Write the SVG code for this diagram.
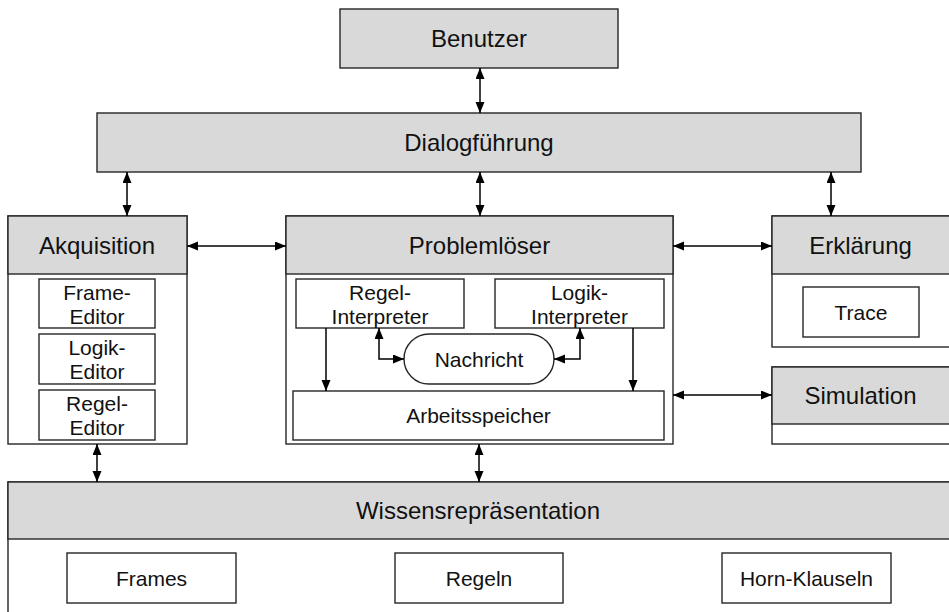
<svg xmlns="http://www.w3.org/2000/svg" width="949" height="612" viewBox="0 0 949 612">
<style>
  .box{fill:#ffffff;stroke:#262626;stroke-width:1.4}
  .hdr{fill:#d9d9d9;stroke:#262626;stroke-width:1.4}
  .t24{font-family:"Liberation Sans",Arial,sans-serif;font-size:24px;fill:#111;text-anchor:middle}
  .t21{font-family:"Liberation Sans",Arial,sans-serif;font-size:21px;fill:#111;text-anchor:middle}
  .con{fill:none;stroke:#000;stroke-width:1.5}
  .bi{marker-start:url(#ah);marker-end:url(#ah)}
  .uni{marker-end:url(#ah)}
</style>
<defs>
  <marker id="ah" markerUnits="userSpaceOnUse" markerWidth="12" markerHeight="10" refX="11" refY="4.5" orient="auto-start-reverse">
    <path d="M0,0 L11,4.5 L0,9 z" fill="#000"/>
  </marker>
</defs>
<rect width="949" height="612" fill="#fff"/>

<g id="benutzer">
  <rect class="hdr" x="340" y="9" width="278" height="59"/>
  <text class="t24" x="479" y="47">Benutzer</text>
</g>

<g id="dialogfuehrung">
  <rect class="hdr" x="97" y="113" width="764" height="59"/>
  <text class="t24" x="479" y="151">Dialogführung</text>
</g>

<g id="akquisition">
  <rect class="box" x="8" y="216" width="179" height="228"/>
  <rect class="hdr" x="8" y="216" width="179" height="58"/>
  <text class="t24" x="97" y="254">Akquisition</text>
  <g id="frame-editor">
    <rect class="box" x="39" y="279" width="116" height="49"/>
    <text class="t21" x="97" y="299.5">Frame-</text>
    <text class="t21" x="97" y="323.5">Editor</text>
  </g>
  <g id="logik-editor">
    <rect class="box" x="39" y="334" width="116" height="50"/>
    <text class="t21" x="97" y="355">Logik-</text>
    <text class="t21" x="97" y="379">Editor</text>
  </g>
  <g id="regel-editor">
    <rect class="box" x="39" y="390" width="116" height="50"/>
    <text class="t21" x="97" y="411">Regel-</text>
    <text class="t21" x="97" y="435">Editor</text>
  </g>
</g>

<g id="problemloeser">
  <rect class="box" x="286" y="216" width="387" height="228"/>
  <rect class="hdr" x="286" y="216" width="387" height="58"/>
  <text class="t24" x="479.5" y="254">Problemlöser</text>
  <g id="regel-interpreter">
    <rect class="box" x="296" y="279" width="168" height="49"/>
    <text class="t21" x="380" y="299.5">Regel-</text>
    <text class="t21" x="380" y="323.5">Interpreter</text>
  </g>
  <g id="logik-interpreter">
    <rect class="box" x="495" y="279" width="169" height="49"/>
    <text class="t21" x="579.5" y="299.5">Logik-</text>
    <text class="t21" x="579.5" y="323.5">Interpreter</text>
  </g>
  <g id="nachricht">
    <rect class="box" x="404" y="334" width="150" height="50" rx="25" ry="25"/>
    <text class="t21" x="479" y="366.5">Nachricht</text>
  </g>
  <g id="arbeitsspeicher">
    <rect class="box" x="293" y="391" width="371" height="49"/>
    <text class="t21" x="478.5" y="423">Arbeitsspeicher</text>
  </g>
</g>

<g id="erklaerung">
  <rect class="box" x="772" y="216" width="180" height="131"/>
  <rect class="hdr" x="772" y="216" width="180" height="58"/>
  <text class="t24" x="860.5" y="254">Erklärung</text>
  <g id="trace">
    <rect class="box" x="803" y="287" width="116" height="50"/>
    <text class="t21" x="861" y="319.5">Trace</text>
  </g>
</g>

<g id="simulation">
  <rect class="box" x="772" y="367" width="180" height="77"/>
  <rect class="hdr" x="772" y="367" width="180" height="57"/>
  <text class="t24" x="860.5" y="404">Simulation</text>
</g>

<g id="wissensrepraesentation">
  <rect class="box" x="8" y="482" width="944" height="135"/>
  <rect class="hdr" x="8" y="482" width="944" height="57"/>
  <text class="t24" x="478" y="519">Wissensrepräsentation</text>
  <g id="frames">
    <rect class="box" x="67" y="553" width="169" height="50"/>
    <text class="t21" x="151.5" y="585.5">Frames</text>
  </g>
  <g id="regeln">
    <rect class="box" x="395" y="553" width="168" height="50"/>
    <text class="t21" x="479" y="585.5">Regeln</text>
  </g>
  <g id="horn-klauseln">
    <rect class="box" x="722" y="553" width="169" height="50"/>
    <text class="t21" x="806.5" y="585.5">Horn-Klauseln</text>
  </g>
</g>

<g id="connectors">
  <line class="con bi" x1="480" y1="68" x2="480" y2="113"/>
  <line class="con bi" x1="127" y1="172" x2="127" y2="216"/>
  <line class="con bi" x1="480" y1="172" x2="480" y2="216"/>
  <line class="con bi" x1="831" y1="172" x2="831" y2="216"/>
  <line class="con bi" x1="187" y1="246" x2="286" y2="246"/>
  <line class="con bi" x1="673" y1="246" x2="772" y2="246"/>
  <line class="con bi" x1="673" y1="395" x2="772" y2="395"/>
  <line class="con bi" x1="97" y1="444" x2="97" y2="482"/>
  <line class="con bi" x1="479" y1="444" x2="479" y2="482"/>
  <line class="con uni" x1="326" y1="328" x2="326" y2="391"/>
  <line class="con uni" x1="633" y1="328" x2="633" y2="391"/>
  <path class="con bi" d="M379,328 V359 H404"/>
  <path class="con bi" d="M580,328 V359 H554"/>
</g>
</svg>
